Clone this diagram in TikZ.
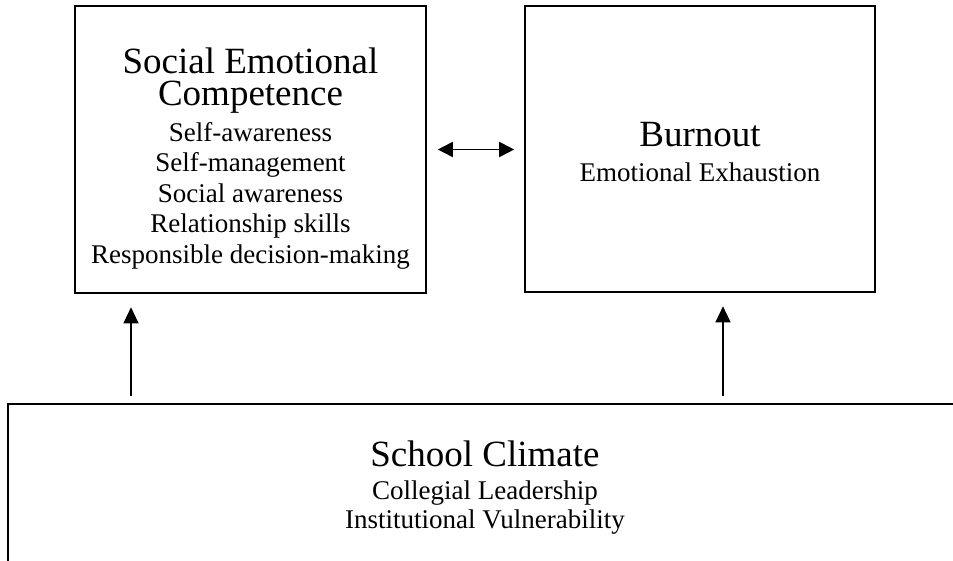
\documentclass[tikz,border=0pt]{standalone}
\usepackage{fontspec}
\setmainfont{Liberation Serif}
\usetikzlibrary{arrows.meta}
\newcommand{\bigline}{\fontsize{18.5}{14}\selectfont}
\newcommand{\boxfont}{\fontsize{13.5}{14}\selectfont\lineskiplimit=-50pt\relax}
\newcommand{\listfont}{\fontsize{13.5}{15.25}\selectfont\lineskiplimit=-50pt\relax}
\begin{document}
\begin{tikzpicture}[x=0.5pt, y=-0.5pt,
    box/.style={draw, line width=1.3pt, inner sep=0pt},
    txt/.style={align=center, inner sep=0pt, font=\boxfont}]
  \useasboundingbox (0,0) rectangle (953,561);
  \clip (0,0) rectangle (953,561);
  % the three boxes
  \node[box, minimum width=175.5pt, minimum height=143.5pt] (sec) at (250.5,149.5) {};
  \node[box, minimum width=175pt, minimum height=143pt] (burn) at (700,149) {};
  \node[box, minimum width=477pt, minimum height=85.5pt] (climate) at (485,489.5) {};
  % their texts
  \node[txt, font=\listfont] (sec-txt) at (250.5,158.3) {{\bigline Social Emotional}\\[0.75pt]
    {\bigline Competence}\\[2.75pt]Self-awareness\\Self-management\\
    Social awareness\\Relationship skills\\Responsible decision-making};
  \node[txt] (burn-txt) at (700,152.4) {{\bigline Burnout}\\[3.5pt]
    Emotional Exhaustion};
  \node[txt] (climate-txt) at (485,487.3) {{\bigline School Climate}\\[2.5pt]
    Collegial Leadership\\[0.5pt]Institutional Vulnerability};
  % arrows
  \coordinate (l-x) at (131,0);
  \coordinate (r-x) at (723,0);
  \begin{scope}[-{Triangle[width=7.5pt,length=8pt]}, line width=0.65pt,
      shorten <=3.5pt, shorten >=6.5pt]
    \draw (climate.north -| l-x) -- (sec.south -| l-x);
    \draw (climate.north -| r-x) -- (burn.south -| r-x);
  \end{scope}
  \draw[{Triangle[width=7.5pt,length=7.5pt]}-{Triangle[width=7.5pt,length=7.5pt]},
    line width=0.9pt, shorten <=5.25pt, shorten >=4.75pt]
    (sec.east) -- (sec.east -| burn.west);
\end{tikzpicture}
\end{document}
